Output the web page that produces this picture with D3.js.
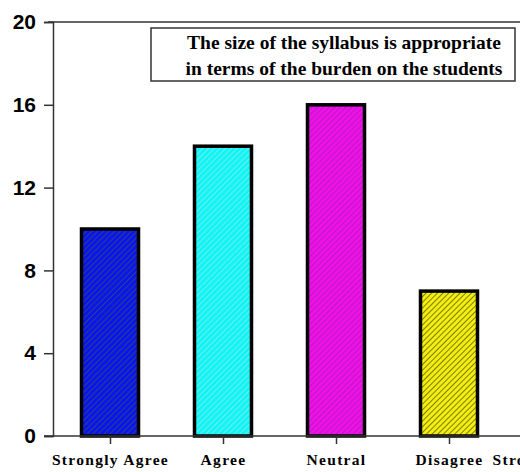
<!DOCTYPE html>
<html>
<head>
<meta charset="utf-8">
<script src="https://cdn.jsdelivr.net/npm/d3@7"></script>
<style>
  html, body { margin: 0; padding: 0; background: #fff; }
  svg { display: block; }
</style>
</head>
<body>
<svg id="chart" width="520" height="472"></svg>
<script>
// Survey responses
const categories = ["Strongly Agree", "Agree", "Neutral", "Disagree", "Strongly Disagree"];
const counts = [10, 14, 16, 7, 3];
const yTicks = [0, 4, 8, 12, 16, 20];
const fills = ["#1010f0", "#10f4f4", "#f010e8", "#f4ee10"];
const hatchColors = ["#1a7a2a", "#a8e8f0", "#9020a0", "#303000"];
const titleLines = ["The size of the syllabus is appropriate", "in terms of the burden on the students"];

const svg = d3.select("#chart");
const W = 520, H = 472;
const margin = { left: 53, top: 22, bottom: 36 };
const step = 113;

const x = d3.scalePoint()
  .domain(categories)
  .range([110, 110 + step * (categories.length - 1)]);

const y = d3.scaleLinear()
  .domain([0, 20])
  .range([H - margin.bottom, margin.top]);

// hatch patterns
const defs = svg.append("defs");
fills.forEach((f, i) => {
  const p = defs.append("pattern")
    .attr("id", "hatch" + i)
    .attr("patternUnits", "userSpaceOnUse")
    .attr("width", 4).attr("height", 4)
    .attr("patternTransform", "rotate(45)");
  p.append("rect").attr("width", 4).attr("height", 4).attr("fill", f);
  p.append("line").attr("x1", 0).attr("y1", 0).attr("x2", 0).attr("y2", 4)
    .attr("stroke", hatchColors[i]).attr("stroke-width", 1.2);
});

// frame top line
svg.append("line")
  .attr("x1", margin.left - 5).attr("x2", W)
  .attr("y1", y(20)).attr("y2", y(20))
  .attr("stroke", "#333").attr("stroke-width", 1.5);

// bars
const barW = 57;
svg.selectAll("rect.bar")
  .data(categories.map((c, i) => ({ c, v: counts[i], i })))
  .join("rect")
  .attr("class", "bar")
  .attr("x", d => x(d.c) - barW / 2)
  .attr("y", d => y(d.v))
  .attr("width", barW)
  .attr("height", d => y(0) - y(d.v))
  .attr("fill", d => `url(#hatch${d.i % fills.length})`)
  .attr("stroke", "#000")
  .attr("stroke-width", 3.5);

// y axis
const yAxis = svg.append("g")
  .attr("transform", `translate(${margin.left},0)`)
  .call(d3.axisLeft(y).tickValues(yTicks).tickSize(9).tickPadding(8).tickFormat(d3.format("d")));
yAxis.select(".domain").attr("stroke", "#333").attr("stroke-width", 1.5);
yAxis.selectAll(".tick line").attr("stroke", "#333").attr("stroke-width", 1.5);
yAxis.selectAll(".tick text")
  .attr("fill", "#000")
  .style("font-family", "Arial, 'Liberation Sans', sans-serif")
  .style("font-weight", "bold")
  .style("font-size", "21px");

// x axis
const xAxis = svg.append("g")
  .attr("transform", `translate(0,${y(0)})`)
  .call(d3.axisBottom(x).tickSize(8).tickPadding(10));
xAxis.select(".domain").remove();
xAxis.append("line")
  .attr("x1", margin.left - 9).attr("x2", W)
  .attr("y1", 0).attr("y2", 0)
  .attr("stroke", "#333").attr("stroke-width", 1.5);
xAxis.selectAll(".tick line").attr("stroke", "#333").attr("stroke-width", 1.5);
xAxis.selectAll(".tick text")
  .attr("fill", "#000")
  .style("font-family", "'Liberation Serif', 'Times New Roman', serif")
  .style("font-weight", "bold")
  .style("font-size", "15.5px")
  .style("letter-spacing", "1.3px");

// title box
svg.append("rect")
  .attr("x", 151).attr("y", 28).attr("width", 364).attr("height", 53)
  .attr("fill", "#fff").attr("stroke", "#333").attr("stroke-width", 1.5);
svg.append("g").selectAll("text")
  .data(titleLines)
  .join("text")
  .attr("x", 344)
  .attr("y", (d, i) => 49 + i * 26)
  .attr("text-anchor", "middle")
  .style("font-family", "'Liberation Serif', 'Times New Roman', serif")
  .style("font-weight", "bold")
  .style("font-size", "19.5px")
  .attr("fill", "#000")
  .text(d => d);
</script>
</body>
</html>
